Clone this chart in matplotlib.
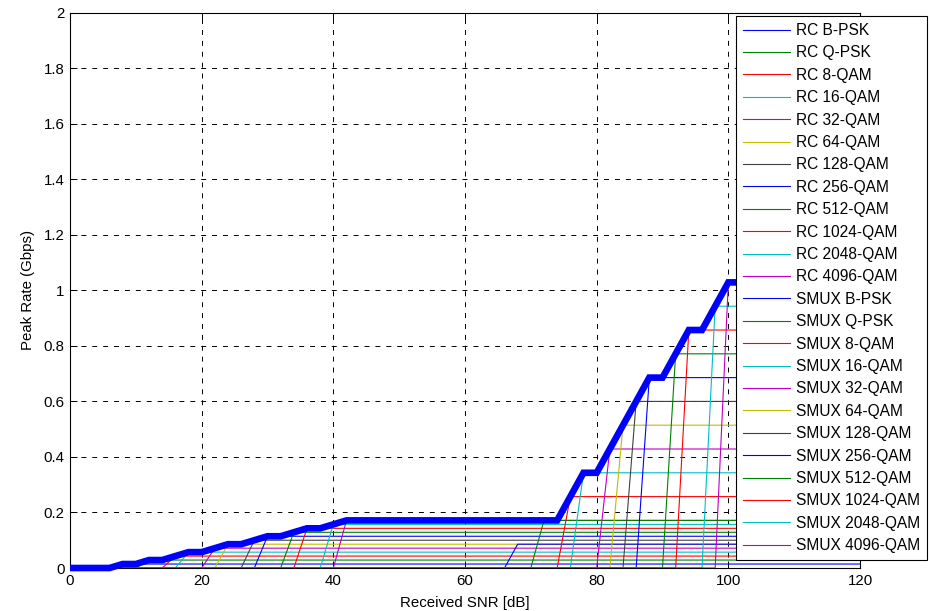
import numpy as np
import matplotlib
matplotlib.use("Agg")
import matplotlib.pyplot as plt
from matplotlib.ticker import FormatStrFormatter

plt.rcParams["font.family"] = ["Liberation Sans", "DejaVu Sans"]

# modulation orders, shared by both schemes
modulations = ["B-PSK", "Q-PSK", "8-QAM", "16-QAM", "32-QAM", "64-QAM",
               "128-QAM", "256-QAM", "512-QAM", "1024-QAM", "2048-QAM", "4096-QAM"]

# SNR (dB) at which each modulation starts to carry data
rc_snr_start = [6, 10, 14, 16, 20, 22, 26, 28, 32, 34, 38, 40]
smux_snr_start = [66, 70, 74, 76, 80, 82, 84, 86, 90, 92, 96, 98]

# peak rate (Gbps) once the modulation is fully usable
rc_rate = [0.0143, 0.0286, 0.0429, 0.0571, 0.0714, 0.0857,
           0.1000, 0.1143, 0.1286, 0.1429, 0.1571, 0.1714]
smux_rate = [0.0857, 0.1714, 0.2571, 0.3429, 0.4286, 0.5143,
             0.6000, 0.6857, 0.7714, 0.8571, 0.9429, 1.0286]

snr = np.arange(0, 121, 2)

# old MATLAB default colour order
color_order = [(0, 0, 1), (0, 0.5, 0), (1, 0, 0), (0, 0.75, 0.75),
               (0.75, 0, 0.75), (0.75, 0.75, 0), (0.25, 0.25, 0.25)]


def rate_curve(start, rate):
    return np.where(snr > start, rate, 0.0)


fig = plt.figure(figsize=(9.3, 6.11), dpi=100)
ax = fig.add_axes([70 / 930, 1 - 568 / 611, 790 / 930, 555.3 / 611])

curves = []
for scheme, starts, rates in [("RC", rc_snr_start, rc_rate),
                              ("SMUX", smux_snr_start, smux_rate)]:
    for i, (mod, s, r) in enumerate(zip(modulations, starts, rates)):
        y = rate_curve(s, r)
        curves.append(y)
        ax.plot(snr, y, color=color_order[i % len(color_order)], lw=0.8,
                label=f"{scheme} {mod}")

# best achievable rate over all schemes
envelope = np.max(curves, axis=0)
ax.plot(snr, envelope, color=(0, 0, 1), lw=4.8, solid_joinstyle="miter",
        solid_capstyle="butt", clip_on=False, zorder=5)

ax.set_xlim(0, 120)
ax.set_ylim(0, 2)
ax.set_xticks(np.arange(0, 121, 20))
ax.set_yticks(np.arange(0, 2.01, 0.2))
ax.yaxis.set_major_formatter(FormatStrFormatter("%g"))
ax.tick_params(direction="in", length=5, width=0.7, top=True, right=True,
               labelsize=10.8, pad=4)
for sp in ax.spines.values():
    sp.set_linewidth(0.8)
ax.set_axisbelow(True)
ax.grid(True, color="black", lw=0.7, linestyle=(0, (5.1, 6.1)))

ax.set_xlabel("Received SNR [dB]", fontsize=10.8, labelpad=6)
ax.set_ylabel("Peak Rate (Gbps)", fontsize=10.8, labelpad=6)

leg = ax.legend(loc="upper left", bbox_to_anchor=(736 / 930, 1 - 16 / 611),
                bbox_transform=fig.transFigure, borderaxespad=0,
                fontsize=11.2, handlelength=3.0, handletextpad=0.38,
                labelspacing=0.476, borderpad=0.45, fancybox=False,
                framealpha=1, edgecolor="black")
leg.get_frame().set_linewidth(0.8)
leg.set_zorder(10)

fig.savefig("out.png", dpi=100)
